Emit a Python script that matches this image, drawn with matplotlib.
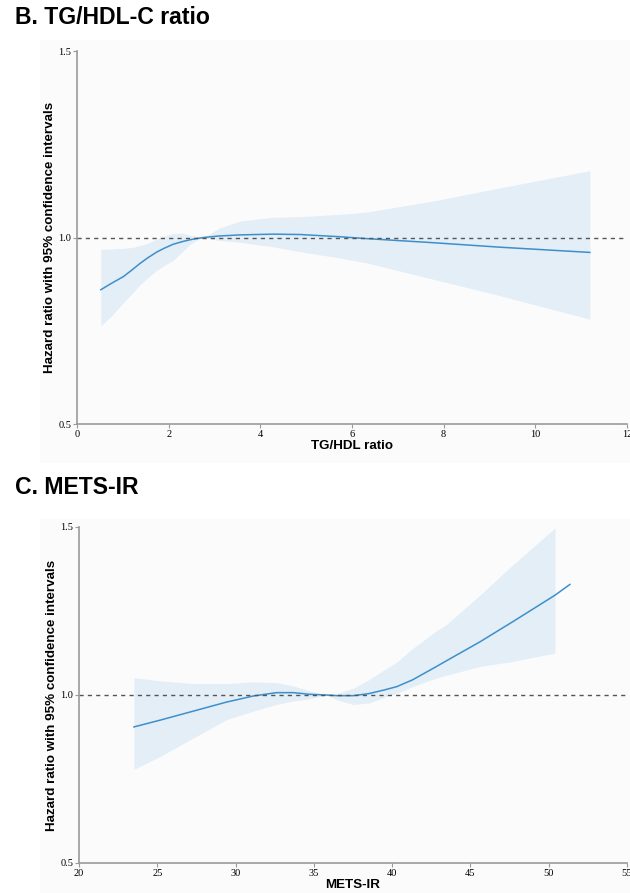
import numpy as np
import matplotlib.pyplot as plt
from matplotlib.patches import Rectangle

# TG/HDL ratio spline: hazard ratio and 95% CI
tg_x = [0.52, 0.75, 1.01, 1.2, 1.37, 1.55, 1.74, 1.9, 2.1, 2.3, 2.47, 2.6, 2.76,
        3.1, 3.56, 4.28, 4.87, 5.74, 6.32, 7.78, 9.23, 11.19]
tg_hr = [0.860, 0.877, 0.895, 0.913, 0.930, 0.946, 0.961, 0.971, 0.982, 0.989, 0.994, 0.997, 1.000,
         1.004, 1.007, 1.009, 1.008, 1.002, 0.997, 0.986, 0.974, 0.960]
tg_hi = [0.969, 0.969, 0.971, 0.973, 0.978, 0.985, 0.996, 1.004, 1.011, 1.012, 1.006, 1.003, 1.000,
         1.025, 1.044, 1.054, 1.056, 1.062, 1.068, 1.098, 1.133, 1.179]
tg_lo = [0.763, 0.790, 0.825, 0.850, 0.873, 0.893, 0.912, 0.925, 0.939, 0.962, 0.982, 0.992, 1.000,
         0.992, 0.987, 0.975, 0.962, 0.945, 0.932, 0.888, 0.844, 0.781]

# METS-IR spline
mets_x = [23.51, 25.17, 27.3, 29.43, 31.13, 32.62, 33.69, 34.75, 35.8, 36.5, 37.5, 38.5,
          39.5, 40.3, 41.3, 42.8, 43.4, 45.6, 47.7, 50.4]
mets_hi = [1.052, 1.042, 1.034, 1.034, 1.039, 1.037, 1.027, 1.012, 1.000, 1.004, 1.020, 1.045,
           1.075, 1.098, 1.138, 1.190, 1.207, 1.297, 1.387, 1.497]
mets_lo = [0.779, 0.817, 0.872, 0.927, 0.952, 0.972, 0.982, 0.989, 1.000, 0.985, 0.972, 0.976,
           0.993, 1.005, 1.025, 1.050, 1.058, 1.085, 1.100, 1.125]
mets_line_x = mets_x + [51.35]
mets_hr = [0.905, 0.925, 0.952, 0.979, 0.997, 1.007, 1.007, 1.002, 1.000, 0.998, 0.998, 1.004,
           1.015, 1.025, 1.045, 1.084, 1.100, 1.158, 1.218, 1.297, 1.329]

tg_ticks = [0, 2, 4, 6, 8, 10, 12]
mets_ticks = [20, 25, 30, 35, 40, 45, 50, 55]
hr_ticks = [0.5, 1.0, 1.5]

W, H = 630, 893
fig = plt.figure(figsize=(W / 100, H / 100), dpi=100)
fig.patch.set_facecolor('white')

sans = 'Liberation Sans'
serif = 'Liberation Serif'
bg = '#fbfbfb'
line_col = '#3d8fcc'
band_col = '#e3eef7'
axis_col = '#9a9a9a'


def fpx(x0, y0, x1, y1):
    # pixel box -> figure fraction [left, bottom, width, height]
    return [x0 / W, 1 - y1 / H, (x1 - x0) / W, (y1 - y0) / H]


def panel(box, bg_box, title, title_y, xs, hr, lo, hi, line_x, xticks, xlabel):
    l, b, w, h = fpx(*bg_box)
    fig.patches.append(Rectangle((l, b), w, h, transform=fig.transFigure,
                                 color=bg, zorder=-10))
    fig.text(15 / W, 1 - title_y / H, title, fontsize=16.6, fontweight='bold',
             family=sans, va='center', ha='left')
    ax = fig.add_axes(fpx(*box))
    ax.set_zorder(1)
    ax.patch.set_alpha(0)
    ax.fill_between(xs, lo, hi, color=band_col, lw=0)
    ax.plot(line_x, hr, color=line_col, lw=1.1)
    ax.axhline(1.0, color='#555555', lw=1, ls=(0, (3, 3)))
    ax.set_xlim(xticks[0], xticks[-1])
    ax.set_ylim(0.5, 1.5)
    ax.set_xticks(xticks)
    ax.set_yticks(hr_ticks)
    ax.set_yticklabels(['0.5', '1.0', '1.5'])
    for s in ['top', 'right']:
        ax.spines[s].set_visible(False)
    for s in ['left', 'bottom']:
        ax.spines[s].set_color(axis_col)
        ax.spines[s].set_linewidth(1.2)
    ax.tick_params(length=3, width=0.8, color=axis_col, labelsize=7.5, pad=1)
    for lab in ax.get_xticklabels() + ax.get_yticklabels():
        lab.set_family(serif)
    ax.set_xlabel(xlabel, fontsize=9.6, fontweight='bold', family=sans, labelpad=1)
    ax.set_ylabel('Hazard ratio with 95% confidence intervals', fontsize=9.6,
                  fontweight='bold', family=sans, labelpad=2)
    return ax


panel((77, 51, 627, 424), (40, 40, 630, 462), 'B. TG/HDL-C ratio', 18,
      tg_x, tg_hr, tg_lo, tg_hi, tg_x, tg_ticks, 'TG/HDL ratio')
panel((79, 527, 627, 863), (40, 519, 630, 893), 'C. METS-IR', 487,
      mets_x, mets_hr, mets_lo, mets_hi, mets_line_x, mets_ticks, 'METS-IR')

fig.savefig('out.png', dpi=100, facecolor='white')
